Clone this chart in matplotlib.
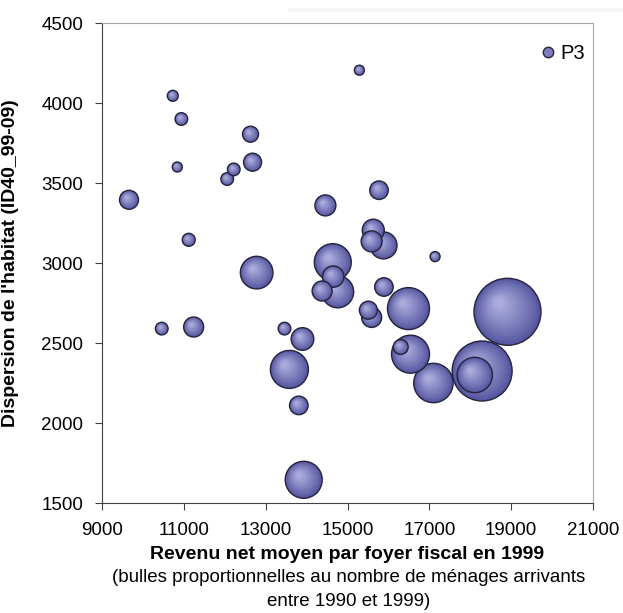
import numpy as np
import matplotlib.pyplot as plt
from matplotlib.colors import to_rgb
from matplotlib.lines import Line2D

plt.rcParams['font.family'] = ['Liberation Sans', 'DejaVu Sans']

# Revenu net moyen par foyer fiscal en 1999
revenu = [10730, 10940, 12630, 10840, 12680, 12220, 12060, 9660, 14460, 11120,
          15290, 15770, 15630, 15880, 15590, 17140, 14640, 14650, 14760, 14380,
          12780, 10460, 11240, 13460, 13900, 13580, 13810, 13930, 15890, 15510,
          15590, 16490, 18910, 16540, 16300, 17100, 18290, 18110]
# Dispersion de l'habitat (ID40_99-09)
dispersion = [4045, 3900, 3805, 3600, 3630, 3585, 3525, 3395, 3360, 3145,
              4205, 3455, 3205, 3110, 3135, 3040, 3005, 2915, 2820, 2825,
              2940, 2590, 2600, 2590, 2525, 2335, 2110, 1645, 2850, 2705,
              2660, 2715, 2695, 2430, 2475, 2250, 2325, 2300]
# menages arrivants entre 1990 et 1999 (taille des bulles)
menages = [300, 400, 640, 250, 810, 400, 400, 900, 1100, 420,
           250, 860, 1210, 1820, 1100, 250, 3420, 1140, 2560, 1000,
           2660, 400, 1000, 400, 1280, 3610, 860, 3420, 860, 810,
           1000, 4410, 11220, 3610, 560, 3880, 9000, 3130]

fig = plt.figure(figsize=(6.23, 6.13), dpi=100)
ax = fig.add_axes([102/623, 110/613, 491/623, 480/613])
ax.set_xlim(9000, 21000)
ax.set_ylim(1500, 4500)
ax.set_xticks(range(9000, 21001, 2000))
ax.set_yticks(range(1500, 4501, 500))

# taille d'un pixel en unites de donnees
bb = ax.get_window_extent()
px_x = 12000 / bb.width
px_y = 3000 / bb.height

fonce = np.array(to_rgb('#5555a0'))
clair = np.array(to_rgb('#aaaadc'))
n = 16
t = np.linspace(0, 1, n)
f = 1 - 0.85 * t
couleurs = fonce + (clair - fonce) * t[:, None] ** 0.9

# les plus grosses bulles d'abord
ordre = np.argsort(menages, kind='stable')[::-1]
z = 2
for i in ordre:
    r = np.sqrt(menages[i] / 10)  # rayon en pixels
    dx = -(1 - f) * 0.3 * r * px_x
    dy = (1 - f) * 0.3 * r * px_y
    ax.scatter(revenu[i] + dx, dispersion[i] + dy, s=(2 * r * f * 0.72) ** 2,
               c=couleurs, linewidths=0, zorder=z)
    ax.scatter([revenu[i]], [dispersion[i]], s=(2 * r * 0.72) ** 2,
               facecolors='none', edgecolors='#24243c', linewidths=1, zorder=z + 0.5)
    z += 1

for cote in ['left', 'bottom']:
    ax.spines[cote].set_color('#404040')
for cote in ['top', 'right']:
    ax.spines[cote].set_color('#a6a6a6')
ax.tick_params(direction='out', length=5, color='#404040', labelsize=13.5)
ax.tick_params(axis='x', pad=9)
ax.tick_params(axis='y', pad=8.5)

ax.set_ylabel("Dispersion de l'habitat (ID40_99-09)", fontsize=14, fontweight='bold')
ax.yaxis.set_label_coords(-0.169, 0.5)
ax.set_xlabel('Revenu net moyen par foyer fiscal en 1999', fontsize=14,
              fontweight='bold', labelpad=5)
fig.text(349/623, 1 - 577/613, '(bulles proportionnelles au nombre de ménages arrivants',
         ha='center', va='center', fontsize=13.5)
fig.text(349/623, 1 - 602/613, 'entre 1990 et 1999)', ha='center', va='center', fontsize=13.5)

poignee = Line2D([], [], marker='o', ls='none', markersize=7.5,
                 markerfacecolor='#7c7cbf', markeredgecolor='#24243c', label='P3')
ax.legend(handles=[poignee], loc='upper right', bbox_to_anchor=(1.012, 0.985),
          frameon=False, fontsize=14.5, handlelength=0.8, handletextpad=0.2,
          borderpad=0.2)

# legere ombre grise en haut de l'image
fig.add_artist(Line2D([290/623, 1], [1 - 10/613, 1 - 10/613], color='#f5f5f5', lw=3))

fig.savefig('out.png', dpi=100)
